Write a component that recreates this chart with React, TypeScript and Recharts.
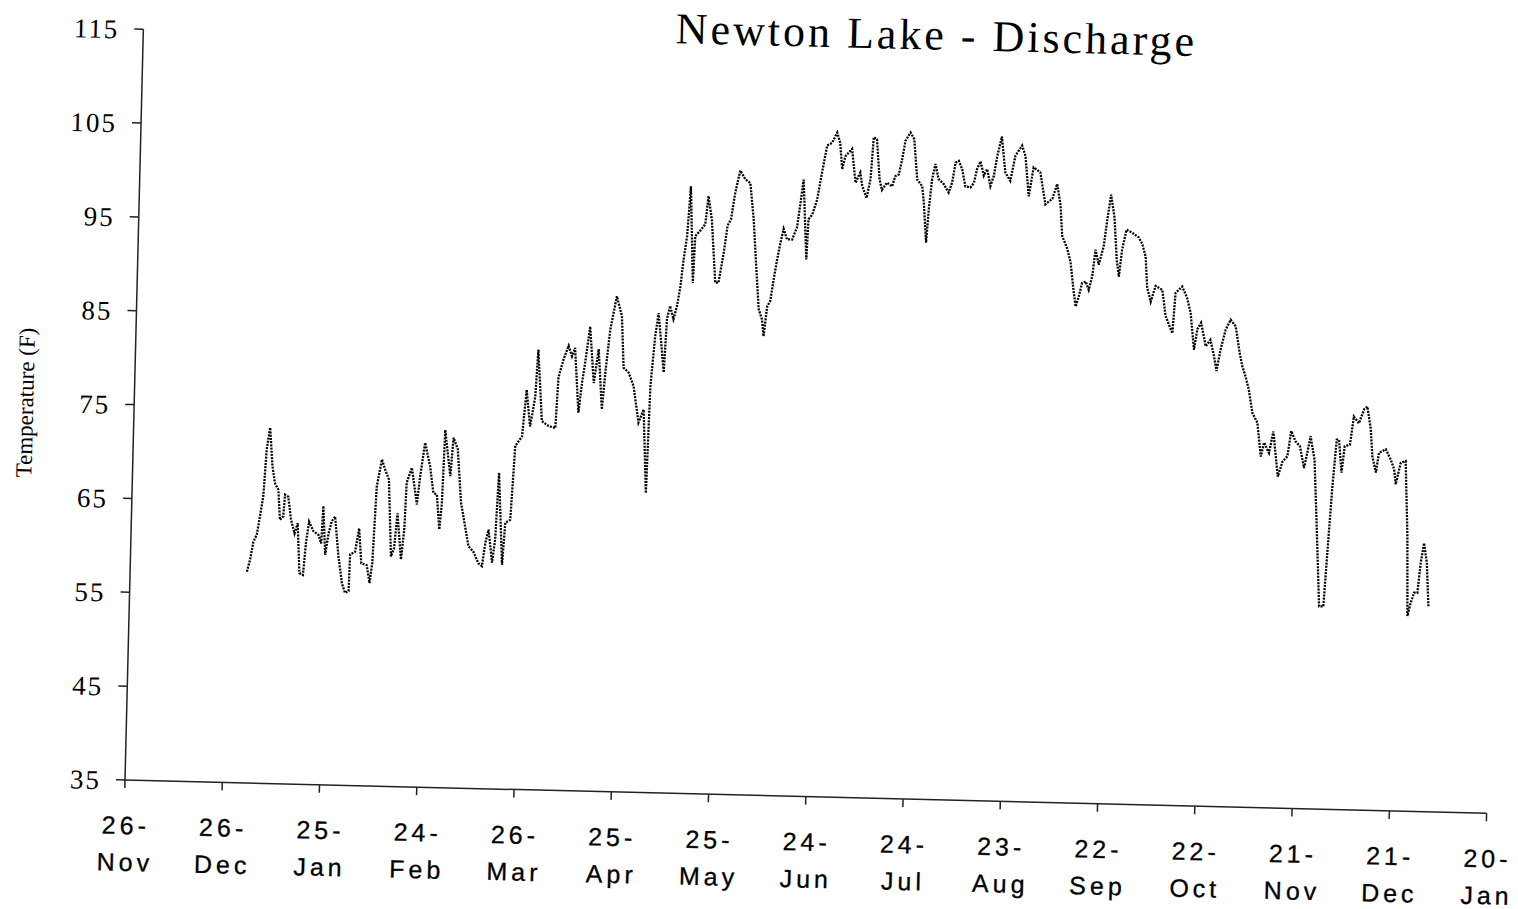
import { LineChart, Line, XAxis, YAxis } from "recharts";

// days counted from 26-Nov (first x tick)
const dayOffsets = [
  36.0, 36.9, 37.8, 38.8, 39.6, 40.5, 41.2, 42.1, 43.1, 44.0, 45.1, 45.8, 46.8, 47.2, 48.2, 49.2, 50.4, 51.3, 52.2, 53.3,
  54.0, 54.8, 56.2, 57.8, 58.7, 59.1, 60.0, 60.9, 61.8, 62.8, 64.1, 65.4, 66.4, 67.5, 67.7, 69.2, 70.3, 71.2, 72.9, 73.9,
  74.6, 75.4, 76.8, 77.9, 79.1, 80.3, 81.2, 82.0, 83.4, 84.2, 84.6, 86.1, 87.9, 88.7, 90.0, 91.7, 92.9, 94.0, 95.0, 95.6,
  96.1, 98.0, 98.7, 100.1, 101.5, 102.7, 104.1, 105.7, 107.3, 108.4, 109.3, 110.2, 111.5, 112.3, 113.0, 114.6, 115.3, 116.8, 117.8, 119.8,
  120.9, 122.2, 123.6, 124.2, 125.8, 127.9, 130.0, 130.6, 132.0, 133.5, 134.6, 135.5, 137.0, 137.9, 138.7, 140.0, 141.5, 142.8, 144.2, 145.0,
  146.2, 148.0, 149.7, 150.6, 152.2, 153.8, 155.6, 157.1, 158.4, 159.0, 160.1, 161.0, 163.0, 163.6, 164.5, 165.6, 166.6, 167.5, 168.3, 169.2,
  170.0, 171.3, 171.7, 173.2, 174.7, 175.5, 176.7, 178.2, 179.2, 180.6, 181.6, 182.6, 183.7, 185.1, 186.7, 188.3, 189.6, 190.8, 191.8, 192.9,
  193.5, 194.4, 195.3, 196.2, 197.1, 198.0, 198.9, 200.0, 201.6, 203.0, 203.9, 204.7, 206.1, 206.5, 207.6, 209.0, 210.3, 211.7, 213.2, 214.7,
  215.7, 216.5, 217.4, 218.4, 219.4, 220.7, 222.1, 222.8, 224.2, 225.3, 226.0, 227.0, 228.1, 228.9, 230.4, 232.0, 232.9, 234.0, 234.9, 235.8,
  237.3, 238.5, 239.7, 241.3, 241.9, 242.9, 243.5, 244.3, 245.2, 246.3, 247.9, 249.5, 250.5, 251.4, 252.4, 253.5, 254.6, 256.2, 257.2, 258.1,
  259.1, 260.2, 261.2, 262.3, 263.3, 264.2, 265.5, 266.8, 268.4, 269.8, 271.8, 272.9, 274.2, 275.5, 277.6, 279.4, 281.5, 282.9, 284.1, 284.8,
  286.5, 287.6, 288.8, 289.5, 290.4, 291.3, 292.4, 293.4, 294.4, 295.2, 296.3, 297.7, 298.6, 299.6, 300.8, 301.8, 302.6, 303.4, 304.6, 306.4,
  308.5, 309.6, 310.7, 311.4, 312.6, 314.0, 316.1, 317.3, 319.5, 320.2, 322.2, 323.8, 325.0, 326.3, 327.2, 328.3, 329.9, 331.3, 332.5, 333.4,
  334.5, 335.9, 337.4, 339.0, 340.4, 341.3, 342.4, 343.5, 344.8, 346.4, 347.7, 348.6, 350.2, 351.4, 352.3, 353.1, 354.4, 355.9, 356.9, 358.3,
  359.7, 361.1, 362.0, 362.9, 364.3, 365.4, 366.8, 368.1, 369.1, 370.0, 371.0, 371.7, 372.7, 373.5, 375.1, 376.1, 377.7, 379.2, 380.2, 381.4,
  382.1, 383.3, 384.1, 386.2, 387.8, 388.9, 389.5, 390.9, 392.4, 393.5, 394.1, 395.0, 396.0, 397.0, 397.8, 398.7, 399.7, 400.5,
];

const temps = [
  57.5, 58.8, 60.7, 61.5, 63.4, 65.6, 70.6, 72.9, 68.8, 67.0, 66.3, 63.1, 63.5, 65.8, 65.6, 63.2, 61.7, 62.8, 57.5, 57.3,
  60.7, 63.0, 62.0, 61.6, 60.7, 64.7, 59.5, 61.8, 63.1, 63.6, 59.4, 56.5, 55.5, 55.7, 59.6, 59.9, 62.4, 58.7, 58.5, 56.6,
  58.8, 66.9, 69.8, 68.7, 67.7, 59.5, 60.4, 64.1, 59.2, 62.4, 67.4, 69.0, 65.1, 68.1, 71.7, 69.2, 66.4, 66.2, 62.5, 65.3,
  73.1, 68.2, 72.3, 71.1, 65.4, 63.3, 60.8, 60.2, 59.0, 58.7, 61.2, 62.6, 59.1, 61.6, 68.7, 58.9, 63.4, 63.7, 71.6, 72.6,
  77.6, 73.7, 76.9, 81.9, 74.3, 73.8, 73.6, 79.0, 80.9, 82.4, 81.3, 82.2, 75.3, 78.5, 80.6, 84.5, 78.5, 82.1, 75.7, 79.6,
  84.2, 87.8, 85.7, 80.2, 79.7, 78.3, 74.4, 75.8, 66.9, 78.3, 83.6, 86.1, 79.8, 85.5, 86.9, 85.5, 86.9, 89.0, 91.9, 94.4,
  99.7, 89.4, 94.4, 95.0, 95.7, 98.7, 96.2, 89.5, 89.5, 92.7, 95.6, 96.3, 99.1, 101.5, 100.6, 100.2, 96.3, 91.0, 86.8, 85.7,
  83.9, 87.1, 87.7, 90.0, 92.1, 93.9, 95.4, 94.3, 94.3, 95.6, 98.2, 100.7, 92.2, 96.5, 97.0, 98.6, 101.5, 104.4, 104.7, 105.8,
  104.7, 101.9, 103.3, 103.7, 104.1, 100.5, 101.6, 100.2, 98.9, 100.9, 105.4, 105.2, 100.9, 99.8, 100.6, 100.2, 101.3, 101.5, 103.1, 105.1,
  106.0, 105.3, 101.0, 100.3, 98.6, 94.3, 97.9, 101.1, 102.7, 101.1, 100.6, 99.7, 100.8, 102.9, 103.1, 102.2, 100.4, 100.3, 100.8, 102.3,
  103.1, 101.6, 102.3, 100.5, 101.6, 103.7, 105.8, 102.0, 101.1, 103.8, 104.9, 103.8, 99.5, 102.6, 102.1, 98.7, 99.3, 100.9, 98.6, 95.4,
  94.0, 92.6, 89.4, 87.9, 89.0, 90.4, 90.6, 89.7, 91.2, 94.0, 92.4, 94.4, 97.2, 99.9, 97.5, 93.0, 91.2, 94.1, 96.2, 95.9,
  95.4, 94.7, 93.4, 90.1, 88.6, 90.3, 89.9, 87.1, 85.3, 89.6, 90.3, 89.1, 87.5, 83.6, 85.8, 86.5, 84.0, 84.7, 83.0, 81.4,
  83.7, 85.8, 86.9, 86.2, 83.4, 82.0, 80.9, 79.5, 77.0, 76.0, 72.4, 73.9, 72.8, 75.1, 72.5, 70.3, 71.9, 72.5, 75.2, 74.1,
  73.6, 71.3, 72.9, 74.7, 72.2, 65.5, 56.6, 56.6, 63.4, 69.4, 74.4, 74.4, 70.9, 73.7, 73.9, 76.9, 76.2, 77.7, 78.0, 75.6,
  72.7, 71.0, 73.1, 73.5, 72.4, 71.4, 69.8, 72.1, 72.3, 64.3, 55.8, 57.2, 58.3, 58.3, 61.5, 63.6, 61.5, 56.9,
];

const xTickDays = [0, 30, 60, 90, 120, 150, 180, 210, 240, 270, 300, 330, 360, 390, 420];
const xTickLabels = [
  ["26-", "Nov"], ["26-", "Dec"], ["25-", "Jan"], ["24-", "Feb"], ["26-", "Mar"],
  ["25-", "Apr"], ["25-", "May"], ["24-", "Jun"], ["24-", "Jul"], ["23-", "Aug"],
  ["22-", "Sep"], ["22-", "Oct"], ["21-", "Nov"], ["21-", "Dec"], ["20-", "Jan"],
];
const yTicks = [35, 45, 55, 65, 75, 85, 95, 105, 115];

const data = dayOffsets.map((d, i) => ({ day: d, temp: temps[i] }));

const serif = "'Liberation Serif', 'Times New Roman', serif";
const sans = "'Liberation Sans', Arial, sans-serif";

function XTick(props: any) {
  const { x, y, payload } = props;
  const idx = xTickDays.indexOf(payload.value);
  const lbl = xTickLabels[idx] ?? ["", ""];
  return (
    <text textAnchor="middle" fontFamily={sans} fontSize={25} letterSpacing={4} fill="#000" stroke="#000" strokeWidth={0.3}>
      <tspan x={x + 2} y={y + 46}>{lbl[0]}</tspan>
      <tspan x={x + 2} y={y + 83}>{lbl[1]}</tspan>
    </text>
  );
}

function YTick(props: any) {
  const { x, y, payload } = props;
  return (
    <text x={x + 2} y={y} dy="0.36em" textAnchor="end" fontFamily={serif} fontSize={27} letterSpacing={2} fill="#000">
      {payload.value}
    </text>
  );
}

export default function App() {
  return (
    <div
      style={{
        position: "absolute",
        left: 0,
        top: 0,
        width: 1518,
        height: 909,
        transform: "rotate(1.4deg)",
        transformOrigin: "125px 780px",
      }}
    >
      <LineChart width={1518} height={909} data={data} margin={{ top: 29, right: 31, bottom: 0, left: 0 }}>
        <XAxis
          dataKey="day"
          type="number"
          domain={[0, 420]}
          ticks={xTickDays}
          interval={0}
          height={129}
          tickSize={8}
          tickMargin={0}
          tick={<XTick />}
          axisLine={{ stroke: "#222", strokeWidth: 1.5 }}
          tickLine={{ stroke: "#222", strokeWidth: 1.5 }}
        />
        <YAxis
          type="number"
          domain={[35, 115]}
          ticks={yTicks}
          interval={0}
          width={125}
          tickSize={9}
          tickMargin={17}
          tick={<YTick />}
          axisLine={{ stroke: "#222", strokeWidth: 1.5 }}
          tickLine={{ stroke: "#222", strokeWidth: 1.5 }}
        />
        <Line
          type="linear"
          dataKey="temp"
          stroke="#000"
          strokeWidth={2.3}
          strokeDasharray="2 1.2"
          dot={false}
          isAnimationActive={false}
        />
      </LineChart>
      <svg width={1518} height={909} style={{ position: "absolute", left: 0, top: 0, pointerEvents: "none" }}>
        <text x={918} y={30} textAnchor="middle" fontFamily={serif} fontSize={44} letterSpacing={3} fill="#000">
          Newton Lake - Discharge
        </text>
        <text
          x={24}
          y={405}
          transform="rotate(-90 24 405)"
          textAnchor="middle"
          fontFamily={serif}
          fontSize={23}
          fill="#000"
        >
          Temperature (F)
        </text>
      </svg>
    </div>
  );
}
